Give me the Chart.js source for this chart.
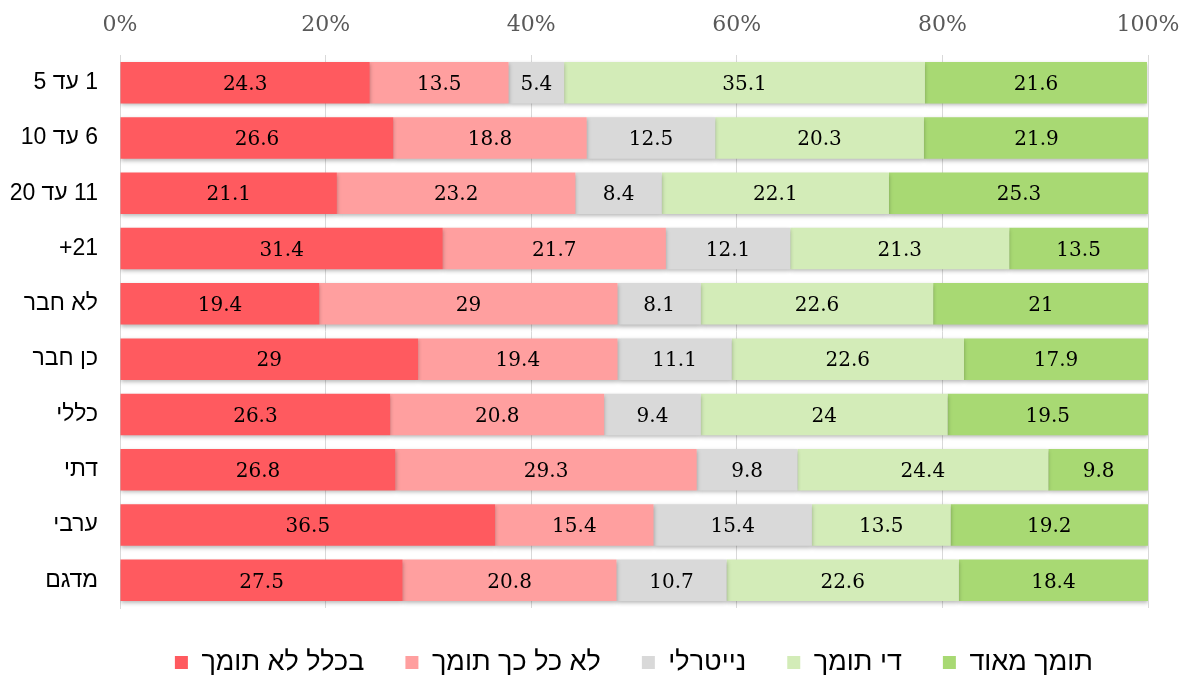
<!DOCTYPE html>
<html>
<head>
<meta charset="utf-8">
<script src="https://cdn.jsdelivr.net/npm/chart.js@4"></script>
<style>
  html, body { margin: 0; background: #fff; }
  #wrap { width: 1189px; height: 677px; }
</style>
</head>
<body>
<div id="wrap"><canvas id="chart" dir="rtl"></canvas></div>
<script>
const categories = ["1 עד 5", "6 עד 10", "11 עד 20", "21+", "לא חבר", "כן חבר", "כללי", "דתי", "ערבי", "מדגם"];
const seriesNames = ["בכלל לא תומך", "לא כל כך תומך", "נייטרלי", "די תומך", "תומך מאוד"];
const notAtAll = [24.3, 26.6, 21.1, 31.4, 19.4, 29, 26.3, 26.8, 36.5, 27.5];
const notSoMuch = [13.5, 18.8, 23.2, 21.7, 29, 19.4, 20.8, 29.3, 15.4, 20.8];
const neutral = [5.4, 12.5, 8.4, 12.1, 8.1, 11.1, 9.4, 9.8, 15.4, 10.7];
const quiteSupport = [35.1, 20.3, 22.1, 21.3, 22.6, 22.6, 24, 24.4, 13.5, 22.6];
const strongSupport = [21.6, 21.9, 25.3, 13.5, 21, 17.9, 19.5, 9.8, 19.2, 18.4];
const tickLabels = ["0%", "20%", "40%", "60%", "80%", "100%"];

const colors = ["#ff5a5f", "#ff9f9f", "#d9d9d9", "#d3ecb8", "#a8d973"];
const serif = '"DejaVu Serif", "Liberation Serif", serif';
const sans = '"Liberation Sans", "DejaVu Sans", Arial, sans-serif';

// soft drop shadow under the bars
const barShadow = {
    id: "barShadow",
    beforeDatasetsDraw(chart) {
        const c = chart.ctx;
        c.save();
        c.shadowColor = "rgba(0,0,0,0.28)";
        c.shadowBlur = 4;
        c.shadowOffsetY = 2;
    },
    afterDatasetsDraw(chart) {
        chart.ctx.restore();
    }
};

// value written in the middle of each segment
const barLabels = {
    id: "barLabels",
    afterDatasetsDraw(chart) {
        const c = chart.ctx;
        c.save();
        c.font = "20px " + serif;
        c.fillStyle = "#000";
        c.textAlign = "center";
        c.textBaseline = "middle";
        chart.data.datasets.forEach(function (ds, i) {
            chart.getDatasetMeta(i).data.forEach(function (bar, j) {
                c.fillText(String(ds.data[j]), (bar.x + bar.base) / 2, bar.y + 2);
            });
        });
        c.restore();
    }
};

// nudge the legend a bit to the left, like the original
const legendShift = {
    id: "legendShift",
    afterLayout(chart) {
        if (chart.legend) {
            chart.legend.left -= 14;
            chart.legend.right -= 14;
        }
    }
};

const seriesValues = [notAtAll, notSoMuch, neutral, quiteSupport, strongSupport];

new Chart(document.getElementById("chart"), {
    type: "bar",
    data: {
        labels: categories,
        datasets: seriesValues.map(function (vals, i) {
            return {
                label: seriesNames[i],
                data: vals,
                backgroundColor: colors[i],
                barPercentage: 0.75,
                categoryPercentage: 1
            };
        })
    },
    options: {
        indexAxis: "y",
        responsive: true,
        maintainAspectRatio: false,
        animation: false,
        layout: { padding: { left: 0, right: 41, top: 0, bottom: -9 } },
        scales: {
            x: {
                position: "top",
                stacked: true,
                min: 0,
                max: 100,
                afterFit: function (s) {
                    s.height = 55;
                    s.paddingLeft = 0;
                    s.paddingRight = 0;
                },
                border: { display: false },
                grid: { color: "#d9d9d9", drawTicks: false },
                ticks: {
                    stepSize: 20,
                    padding: 17,
                    color: "#595959",
                    font: { family: serif, size: 22 },
                    callback: function (v) { return tickLabels[v / 20]; }
                }
            },
            y: {
                stacked: true,
                afterFit: function (s) { s.width = 120; },
                border: { color: "#d9d9d9" },
                grid: { display: false, drawTicks: false },
                ticks: {
                    padding: 22,
                    color: "#000",
                    font: { family: sans, size: 23 }
                }
            }
        },
        plugins: {
            tooltip: { enabled: false },
            legend: {
                position: "bottom",
                align: "end",
                labels: {
                    boxWidth: 13,
                    boxHeight: 13,
                    padding: 41,
                    color: "#000",
                    font: { family: sans, size: 27 }
                }
            }
        }
    },
    plugins: [barShadow, barLabels, legendShift]
});
</script>
</body>
</html>
